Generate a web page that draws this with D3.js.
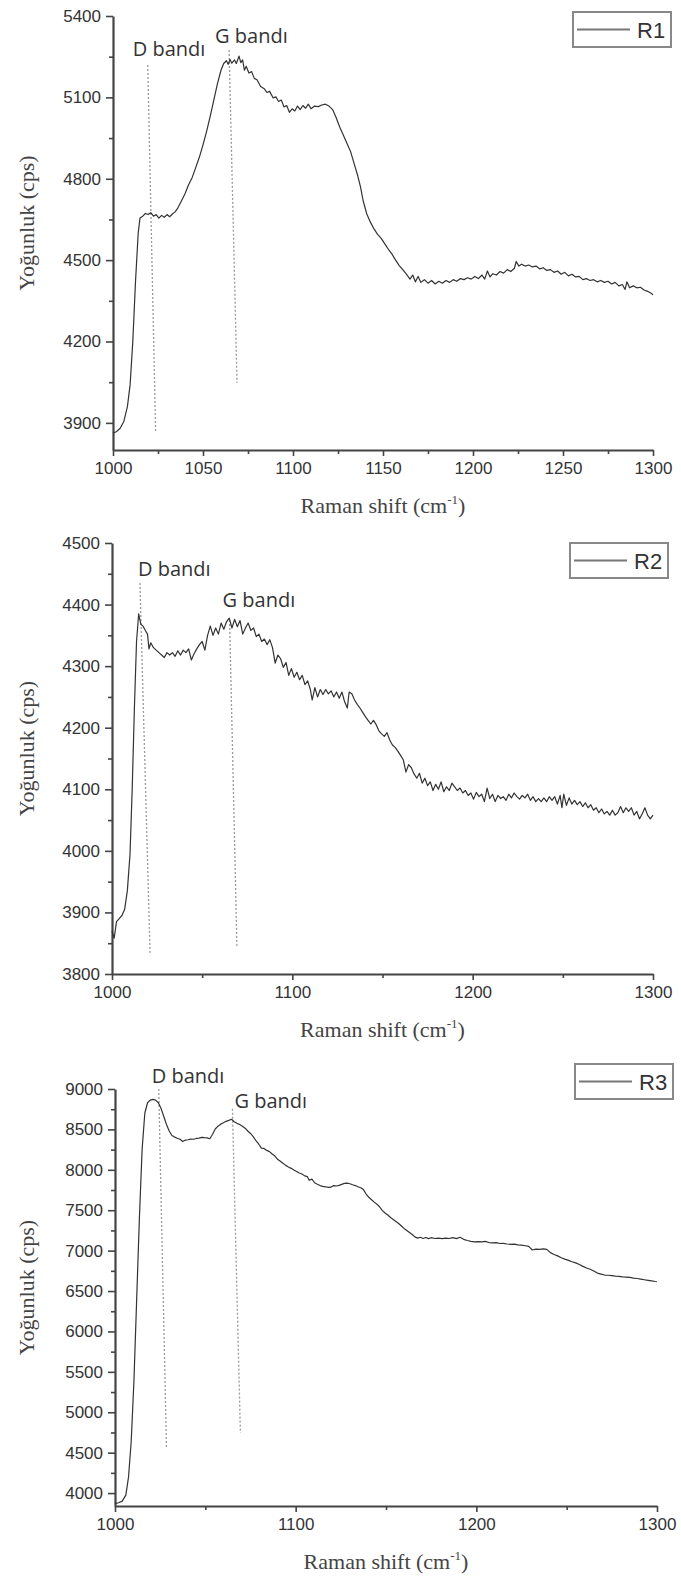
<!DOCTYPE html>
<html><head><meta charset="utf-8">
<script src="https://cdn.jsdelivr.net/npm/d3@7"></script>
<style>body{margin:0;background:#fff}svg{display:block}</style>
</head><body>
<svg id="chart" width="681" height="1578"></svg>
<script>
// ---------- DATA ----------
const seriesNames = ["R1", "R2", "R3"];
const bandLabels = ["D bandı", "G bandı"];

// R1: [Raman shift, intensity]
const r1 = [[1000,3862],[1002,3868],[1004,3880],[1006,3905],[1008,3960],[1009.5,4040],[1011,4200],[1012.5,4420],[1014,4600],[1015,4655],[1016.5,4662],[1018,4672],[1019.5,4668],[1021,4675],[1022.5,4662],[1024,4668],[1025.5,4655],[1027,4665],[1028.5,4658],[1030,4668],[1031.5,4660],[1033,4670],[1034.5,4678],[1036,4692],[1038,4718],[1040,4745],[1042,4778],[1044,4805],[1046,4842],[1048,4880],[1050,4925],[1052,4975],[1054,5030],[1056,5090],[1058,5150],[1060,5200],[1061.5,5225],[1063,5235],[1064,5222],[1065,5240],[1066,5226],[1067.5,5238],[1068.5,5225],[1070,5252],[1071,5228],[1072,5238],[1073,5200],[1074,5215],[1075.5,5190],[1077,5195],[1078.5,5170],[1080,5165],[1082,5140],[1084,5132],[1085.5,5118],[1087,5122],[1089,5098],[1090.5,5102],[1092,5085],[1093.5,5090],[1095,5065],[1096.5,5070],[1098,5045],[1099.5,5058],[1101,5050],[1102.5,5068],[1104,5055],[1105.5,5070],[1107,5060],[1108.5,5075],[1110,5058],[1112,5068],[1114,5066],[1116,5072],[1118,5075],[1120,5068],[1122,5055],[1124,5025],[1126,4990],[1128,4960],[1130,4930],[1132,4900],[1134,4855],[1136,4810],[1137.5,4770],[1139,4718],[1141,4670],[1143,4640],[1145,4615],[1147,4595],[1149,4580],[1151,4560],[1153,4540],[1155,4522],[1157,4500],[1159,4480],[1161,4465],[1163,4448],[1165,4430],[1166.5,4445],[1168,4420],[1169.5,4440],[1171,4418],[1173,4428],[1175,4415],[1177,4425],[1179,4412],[1181,4422],[1183,4415],[1185,4425],[1187,4418],[1189,4428],[1191,4422],[1193,4432],[1195,4428],[1197,4435],[1199,4430],[1201,4440],[1203,4432],[1205,4445],[1206.5,4430],[1208,4460],[1209.5,4438],[1211,4450],[1213,4445],[1215,4458],[1217,4452],[1219,4465],[1221,4458],[1223,4470],[1224,4495],[1225.5,4478],[1227,4485],[1229,4478],[1231,4482],[1233,4475],[1235,4478],[1237,4468],[1239,4472],[1241,4462],[1243,4465],[1245,4455],[1247,4460],[1249,4448],[1251,4455],[1253,4442],[1255,4448],[1257,4438],[1259,4440],[1261,4428],[1263,4432],[1265,4425],[1267,4428],[1269,4420],[1271,4425],[1273,4418],[1275,4422],[1277,4412],[1279,4418],[1281,4405],[1283,4410],[1284.5,4392],[1285.5,4420],[1287,4398],[1289,4405],[1291,4398],[1293,4400],[1295,4390],[1297,4385],[1299,4378],[1300,4372]];

const r2 = [[1000,3870],[1001.2,3858],[1002.5,3885],[1004,3890],[1005.5,3895],[1007,3905],[1008.5,3935],[1010,3995],[1011.2,4100],[1012.4,4230],[1013.6,4340],[1014.8,4385],[1016,4368],[1017.2,4365],[1018.5,4358],[1019.7,4352],[1020.5,4328],[1021.5,4338],[1023,4330],[1024.5,4326],[1026,4322],[1027.5,4318],[1029,4314],[1030.5,4322],[1032,4318],[1033.5,4322],[1035,4316],[1036.5,4325],[1038,4318],[1039.5,4326],[1041,4322],[1042.5,4328],[1044,4310],[1045.5,4320],[1047,4328],[1048.5,4335],[1050,4340],[1051.5,4326],[1053,4350],[1054.5,4365],[1056,4350],[1057.5,4362],[1059,4352],[1060.5,4370],[1062,4360],[1063.5,4372],[1065,4378],[1066.5,4362],[1068,4376],[1069.5,4364],[1071,4374],[1072.5,4352],[1074,4362],[1075.5,4370],[1077,4358],[1078.5,4362],[1080,4348],[1081.5,4352],[1083,4340],[1084.5,4344],[1086,4335],[1087.5,4343],[1089,4330],[1090.5,4305],[1092,4318],[1093.5,4312],[1095,4298],[1096.5,4306],[1098,4285],[1099.5,4296],[1101,4282],[1102.5,4290],[1104,4278],[1105.5,4285],[1107,4270],[1108.5,4276],[1110,4262],[1111,4245],[1112.5,4265],[1114,4250],[1115.5,4262],[1117,4254],[1118.5,4262],[1120,4255],[1121.5,4260],[1123,4250],[1124.5,4258],[1126,4248],[1127.5,4258],[1129,4242],[1130.5,4232],[1131.5,4258],[1133,4255],[1134.5,4245],[1136,4238],[1137.5,4232],[1139,4225],[1140.5,4218],[1142,4212],[1143.5,4206],[1145,4212],[1146.5,4205],[1148,4195],[1149.5,4190],[1151,4186],[1152.5,4192],[1154,4180],[1155.5,4172],[1157,4168],[1158.5,4162],[1160,4155],[1161.5,4148],[1163,4128],[1164.5,4140],[1166,4135],[1167.5,4125],[1169,4118],[1170.5,4126],[1172,4110],[1173.5,4118],[1175,4106],[1176.5,4112],[1178,4098],[1179.5,4108],[1181,4100],[1182.5,4112],[1184,4096],[1185.5,4104],[1187,4098],[1188.5,4110],[1190,4104],[1191.5,4098],[1193,4102],[1194.5,4094],[1196,4098],[1197.5,4090],[1199,4094],[1200.5,4084],[1202,4095],[1203.5,4088],[1205,4092],[1206.5,4080],[1208,4102],[1209.5,4085],[1211,4092],[1212.5,4080],[1214,4090],[1215.5,4085],[1217,4088],[1218.5,4082],[1220,4092],[1221.5,4086],[1223,4094],[1224.5,4088],[1226,4084],[1227.5,4090],[1229,4086],[1230.5,4092],[1232,4082],[1233.5,4088],[1235,4080],[1236.5,4085],[1238,4080],[1239.5,4086],[1241,4080],[1242.5,4088],[1244,4082],[1245.5,4088],[1247,4076],[1248.5,4090],[1249.5,4070],[1250.5,4092],[1252,4074],[1253.5,4086],[1255,4076],[1256.5,4082],[1258,4075],[1259.5,4080],[1261,4072],[1262.5,4078],[1264,4070],[1265.5,4075],[1267,4066],[1268.5,4070],[1270,4062],[1271.5,4068],[1273,4060],[1274.5,4064],[1276,4058],[1277.5,4066],[1279,4058],[1280.5,4062],[1282,4072],[1283.5,4062],[1285,4070],[1286.5,4064],[1288,4070],[1289.5,4058],[1291,4064],[1292.5,4052],[1294,4060],[1295.5,4070],[1297,4058],[1298.5,4052],[1300,4058]];

const r3 = [[1000,3870],[1002,3880],[1004,3900],[1006,3975],[1007.5,4200],[1009,4650],[1010.5,5400],[1012,6400],[1013.5,7400],[1015,8250],[1016.5,8700],[1018,8830],[1019.5,8862],[1021,8872],[1022.5,8862],[1024,8830],[1025.5,8760],[1027,8660],[1028.5,8560],[1030,8480],[1031.5,8425],[1033,8405],[1034.5,8390],[1036,8378],[1037.5,8350],[1039,8368],[1040.5,8372],[1042,8380],[1043.5,8378],[1045,8388],[1046.5,8392],[1048,8402],[1049.5,8398],[1051,8395],[1052.5,8385],[1054,8440],[1055.5,8505],[1057,8540],[1058.5,8565],[1060,8582],[1061.5,8600],[1063,8612],[1064.5,8625],[1066,8595],[1067.5,8575],[1069,8560],[1070.5,8540],[1072,8515],[1073.5,8480],[1075,8450],[1076.5,8410],[1078,8360],[1079.5,8320],[1081,8268],[1082.5,8265],[1084,8240],[1085.5,8225],[1087,8195],[1088.5,8170],[1090,8130],[1091.5,8105],[1093,8080],[1094.5,8055],[1096,8035],[1097.5,8018],[1099,7998],[1100.5,7980],[1102,7960],[1103.5,7948],[1105,7925],[1106.5,7915],[1107.5,7870],[1109,7885],[1110.5,7840],[1112,7822],[1113.5,7805],[1115,7795],[1116.5,7790],[1118,7782],[1119.5,7785],[1121,7805],[1122.5,7800],[1124,7808],[1125.5,7820],[1127,7832],[1128.5,7835],[1130,7828],[1131.5,7815],[1133,7805],[1134.5,7790],[1136,7778],[1137.5,7755],[1139,7700],[1140.5,7660],[1142,7630],[1143.5,7600],[1145,7575],[1146.5,7540],[1148,7495],[1149.5,7465],[1151,7440],[1152.5,7410],[1154,7385],[1155.5,7360],[1157,7335],[1158.5,7305],[1160,7275],[1161.5,7250],[1163,7225],[1164.5,7200],[1166,7170],[1167.5,7155],[1169,7165],[1170.5,7150],[1172,7162],[1173.5,7148],[1175,7160],[1177,7150],[1179,7155],[1181,7148],[1183,7155],[1185,7150],[1187,7160],[1189,7148],[1191,7165],[1193,7140],[1195,7125],[1197,7115],[1199,7108],[1201,7112],[1203,7108],[1205,7115],[1207,7100],[1209,7095],[1211,7098],[1213,7088],[1215,7090],[1217,7082],[1219,7078],[1221,7080],[1223,7072],[1225,7068],[1227,7060],[1229,7052],[1231,7008],[1233,7018],[1235,7015],[1237,7022],[1239,7015],[1241,6975],[1243,6952],[1245,6935],[1247,6912],[1249,6895],[1251,6880],[1253,6862],[1255,6848],[1257,6828],[1259,6805],[1261,6785],[1263,6770],[1265,6748],[1267,6722],[1269,6710],[1271,6698],[1273,6695],[1275,6690],[1277,6685],[1279,6682],[1281,6676],[1283,6672],[1285,6668],[1287,6660],[1289,6655],[1291,6648],[1293,6640],[1295,6632],[1297,6625],[1299,6618],[1300,6615]];

// Tick values
const xTicks1 = [1000, 1050, 1100, 1150, 1200, 1250, 1300];
const xTicks2 = [1000, 1100, 1200, 1300];
const xTicks3 = [1000, 1100, 1200, 1300];
const yTicks1 = [3900, 4200, 4500, 4800, 5100, 5400];
const yTicks2 = [3800, 3900, 4000, 4100, 4200, 4300, 4400, 4500];
const yTicks3 = [4000, 4500, 5000, 5500, 6000, 6500, 7000, 7500, 8000, 8500, 9000];

// Dashed band marker lines: [x1, y1(top), x2, y2(bottom)] in data units
const dBand1 = [1019.3, 5219, 1023.7, 3863];
const gBand1 = [1064.5, 5275, 1068.9, 4047];
const dBand2 = [1015.5, 4435, 1021.1, 3834];
const gBand2 = [1065.2, 4375, 1069.3, 3843];
const dBand3 = [1024.2, 9000, 1028.5, 4551];
const gBand3 = [1065.0, 8756, 1069.4, 4744];

// ---------- LAYOUT ----------
const panels = [
  {name: seriesNames[0], data: r1, xTicks: xTicks1, xMinorStep: 25, yTicks: yTicks1, yMinorStep: 150,
   yDomain: [3800, 5400], frame: {l: 113, r: 653, t: 16, b: 450},
   bands: [dBand1, gBand1], labelOff: [[-15, -9], [-14, -7]], legend: {x: 573, y: 12}},
  {name: seriesNames[1], data: r2, xTicks: xTicks2, xMinorStep: 50, yTicks: yTicks2, yMinorStep: 50,
   yDomain: [3800, 4500], frame: {l: 112, r: 653, t: 543, b: 974},
   bands: [dBand2, gBand2], labelOff: [[-2, -7], [-7, -13]], legend: {x: 570, y: 543}},
  {name: seriesNames[2], data: r3, xTicks: xTicks3, xMinorStep: 50, yTicks: yTicks3, yMinorStep: 250,
   yDomain: [3840, 9000], frame: {l: 115, r: 657, t: 1089, b: 1506},
   bands: [dBand3, gBand3], labelOff: [[-7, -6], [2, -1]], legend: {x: 575, y: 1064}}
];

const svg = d3.select("#chart");
const tickFont = "'Liberation Sans', Arial, sans-serif";
const serif = "'Liberation Serif', 'Times New Roman', serif";

panels.forEach(p => {
  const f = p.frame;
  const x = d3.scaleLinear().domain([1000, 1300]).range([f.l, f.r]);
  const y = d3.scaleLinear().domain(p.yDomain).range([f.b, f.t]);
  const g = svg.append("g");

  // minor ticks
  const xMinor = d3.range(1000, 1300.01, p.xMinorStep).filter(v => !p.xTicks.includes(v));
  const yMinor = d3.range(p.yTicks[0] - p.yMinorStep, p.yDomain[1] + 0.01, p.yMinorStep)
      .filter(v => v >= p.yDomain[0] && !p.yTicks.includes(v));

  const xAxisMinor = g.append("g").attr("transform", `translate(0,${f.b})`)
    .call(d3.axisBottom(x).tickValues(xMinor).tickSize(4).tickSizeOuter(0).tickFormat(""));
  const yAxisMinor = g.append("g").attr("transform", `translate(${f.l},0)`)
    .call(d3.axisLeft(y).tickValues(yMinor).tickSize(4).tickSizeOuter(0).tickFormat(""));
  [xAxisMinor, yAxisMinor].forEach(a => { a.select(".domain").remove(); a.selectAll("line").attr("stroke", "#444").attr("stroke-width", 1.6); });

  const xAxis = g.append("g").attr("transform", `translate(0,${f.b})`)
    .call(d3.axisBottom(x).tickValues(p.xTicks).tickSize(6).tickSizeOuter(0).tickPadding(6).tickFormat(d3.format("d")));
  const yAxis = g.append("g").attr("transform", `translate(${f.l},0)`)
    .call(d3.axisLeft(y).tickValues(p.yTicks).tickSize(7).tickSizeOuter(0).tickPadding(5).tickFormat(d3.format("d")));
  [xAxis, yAxis].forEach(a => {
    a.select(".domain").attr("stroke", "#444").attr("stroke-width", 2.2);
    a.selectAll(".tick line").attr("stroke", "#444").attr("stroke-width", 1.6);
    a.selectAll("text").attr("font-family", tickFont).attr("font-size", 17).attr("fill", "#333");
  });

  // dashed band lines
  p.bands.forEach((b, i) => {
    g.append("line")
      .attr("x1", x(b[0])).attr("y1", y(b[1])).attr("x2", x(b[2])).attr("y2", y(b[3]))
      .attr("stroke", "#9a9a9a").attr("stroke-width", 1.3).attr("stroke-dasharray", "2,2");
    g.append("text")
      .attr("x", x(b[0]) + p.labelOff[i][0]).attr("y", y(b[1]) + p.labelOff[i][1])
      .attr("font-family", "'Open Sans', 'Liberation Sans', sans-serif").attr("font-size", 20)
      .attr("fill", "#333").text(bandLabels[i]);
  });

  // series line
  const line = d3.line().x(d => x(d[0])).y(d => y(d[1]));
  g.append("path").datum(p.data).attr("d", line)
    .attr("fill", "none").attr("stroke", "#333").attr("stroke-width", 1.2).attr("stroke-linejoin", "round");

  // axis titles
  const xt = g.append("text").attr("x", (f.l + f.r) / 2).attr("y", f.b + 63)
    .attr("text-anchor", "middle").attr("font-family", serif).attr("font-size", 22).attr("fill", "#444");
  xt.append("tspan").text("Raman shift (cm");
  xt.append("tspan").attr("font-size", 13).attr("dy", -9).text("-1");
  xt.append("tspan").attr("dy", 9).text(")");

  g.append("text")
    .attr("transform", `translate(34,${(f.t + f.b) / 2 - 10}) rotate(-90)`)
    .attr("text-anchor", "middle").attr("font-family", serif).attr("font-size", 22).attr("fill", "#444")
    .text("Yoğunluk (cps)");

  // legend
  const L = p.legend;
  const lg = g.append("g").attr("transform", `translate(${L.x},${L.y})`);
  lg.append("rect").attr("width", 98).attr("height", 35).attr("fill", "#fff")
    .attr("stroke", "#888").attr("stroke-width", 2);
  lg.append("line").attr("x1", 4).attr("x2", 57).attr("y1", 17.5).attr("y2", 17.5)
    .attr("stroke", "#777").attr("stroke-width", 2.2);
  lg.append("text").attr("x", 64).attr("y", 25.5).attr("font-family", tickFont)
    .attr("font-size", 22).attr("fill", "#333").text(p.name);
});
</script>
</body></html>
